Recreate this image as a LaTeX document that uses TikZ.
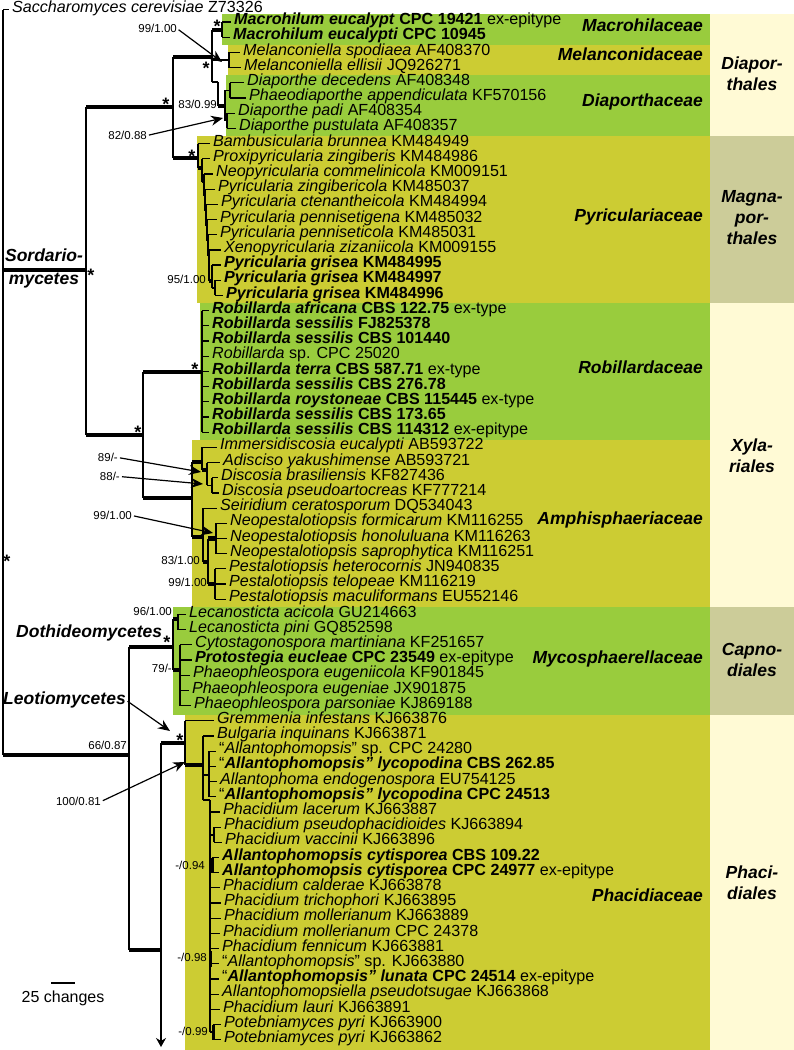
\documentclass[tikz,border=0pt]{standalone}
\usepackage{fontspec}
\setmainfont{Liberation Sans}
\usetikzlibrary{arrows.meta}
\definecolor{grn}{HTML}{99CC3D}
\definecolor{olv}{HTML}{CCCC33}
\definecolor{khk}{HTML}{CCCC99}
\definecolor{crm}{HTML}{FFFAD5}
\newcommand{\bi}[1]{\textbf{\textit{#1}}}
\begin{document}
\begin{tikzpicture}[x=1pt,y=-1pt,
 tax/.style={anchor=mid west,inner xsep=3pt,inner ysep=0pt,font=\fontsize{16.1}{17}\selectfont},
 fam/.style={anchor=mid east,inner sep=0pt,font=\fontsize{17.5}{21}\selectfont\bfseries\itshape},
 ord/.style={align=center,inner sep=0pt,font=\fontsize{17.5}{21}\selectfont\bfseries\itshape},
 cls/.style={inner sep=0pt,font=\fontsize{17.5}{21}\selectfont\bfseries\itshape},
 sup/.style={anchor=mid east,inner sep=0pt,font=\fontsize{11.5}{12}\selectfont},
 ast/.style={anchor=base,inner sep=0pt,font=\fontsize{18}{18}\selectfont\bfseries},
 br/.style={line width=1.2pt},
 tb/.style={line width=4.2pt},
 vl/.style={line width=1.2pt},
 arr/.style={line width=1.2pt,shorten <=2pt,-{Stealth[length=12pt,width=10pt]}},
]
\useasboundingbox (0,0) rectangle (794,1050);
\fill[white] (0,0) rectangle (794,1050);
% family boxes
\fill[grn] (222,14.4) rectangle (710,44.8);
\fill[olv] (228,44.8) rectangle (710,75.2);
\fill[grn] (226,75.2) rectangle (710,135.9);
\fill[olv] (197,135.9) rectangle (710,303);
\fill[grn] (200,303) rectangle (710,439.7);
\fill[olv] (192,439.7) rectangle (710,606.8);
\fill[grn] (173,606.8) rectangle (710,715);
\fill[olv] (185,715) rectangle (710,1050);
% order boxes
\fill[crm] (710,14.4) rectangle (794,135.9);
\fill[khk] (710,135.9) rectangle (794,303);
\fill[crm] (710,303) rectangle (794,606.8);
\fill[khk] (710,606.8) rectangle (794,715);
\fill[crm] (710,715) rectangle (794,1050);

% tip labels
\node[tax] (t0) at (9,9.5) {\textit{Saccharomyces cerevisiae} Z73326};
\node[tax] (t1) at (231,22.0) {\bi{Macrohilum eucalypt} \textbf{CPC 19421} ex-epitype};
\node[tax] (t2) at (230,37.2) {\bi{Macrohilum eucalypti} \textbf{CPC 10945}};
\node[tax] (t3) at (240,52.4) {\textit{Melanconiella spodiaea} AF408370};
\node[tax] (t4) at (241,67.6) {\textit{Melanconiella ellisii} JQ926271};
\node[tax] (t5) at (244,82.8) {\textit{Diaporthe decedens} AF408348};
\node[tax] (t6) at (246,98.0) {\textit{Phaeodiaporthe appendiculata} KF570156};
\node[tax] (t7) at (235,113.1) {\textit{Diaporthe padi} AF408354};
\node[tax] (t8) at (236,128.3) {\textit{Diaporthe pustulata} AF408357};
\node[tax] (t9) at (210,143.5) {\textit{Bambusicularia brunnea} KM484949};
\node[tax] (t10) at (210,158.7) {\textit{Proxipyricularia zingiberis} KM484986};
\node[tax] (t11) at (213,173.9) {\textit{Neopyricularia commelinicola} KM009151};
\node[tax] (t12) at (215,189.1) {\textit{Pyricularia zingibericola} KM485037};
\node[tax] (t13) at (218,204.3) {\textit{Pyricularia ctenantheicola} KM484994};
\node[tax] (t14) at (217,219.5) {\textit{Pyricularia pennisetigena} KM485032};
\node[tax] (t15) at (217,234.7) {\textit{Pyricularia penniseticola} KM485031};
\node[tax] (t16) at (221,249.9) {\textit{Xenopyricularia zizaniicola} KM009155};
\node[tax] (t17) at (221,265.0) {\bi{Pyricularia grisea} \textbf{KM484995}};
\node[tax] (t18) at (221,280.2) {\bi{Pyricularia grisea} \textbf{KM484997}};
\node[tax] (t19) at (223,295.4) {\bi{Pyricularia grisea} \textbf{KM484996}};
\node[tax] (t20) at (209,310.6) {\bi{Robillarda africana} \textbf{CBS 122.75} ex-type};
\node[tax] (t21) at (209,325.8) {\bi{Robillarda sessilis} \textbf{FJ825378}};
\node[tax] (t22) at (209,341.0) {\bi{Robillarda sessilis} \textbf{CBS 101440}};
\node[tax] (t23) at (209,356.2) {\textit{Robillarda} sp. CPC 25020};
\node[tax] (t24) at (209,371.4) {\bi{Robillarda terra} \textbf{CBS 587.71} ex-type};
\node[tax] (t25) at (209,386.6) {\bi{Robillarda sessilis} \textbf{CBS 276.78}};
\node[tax] (t26) at (209,401.8) {\bi{Robillarda roystoneae} \textbf{CBS 115445} ex-type};
\node[tax] (t27) at (209,416.9) {\bi{Robillarda sessilis} \textbf{CBS 173.65}};
\node[tax] (t28) at (209,432.1) {\bi{Robillarda sessilis} \textbf{CBS 114312} ex-epitype};
\node[tax] (t29) at (217,447.3) {\textit{Immersidiscosia eucalypti} AB593722};
\node[tax] (t30) at (220,462.5) {\textit{Adisciso yakushimense} AB593721};
\node[tax] (t31) at (218,477.7) {\textit{Discosia brasiliensis} KF827436};
\node[tax] (t32) at (219,492.9) {\textit{Discosia pseudoartocreas} KF777214};
\node[tax] (t33) at (217,508.1) {\textit{Seiridium ceratosporum} DQ534043};
\node[tax] (t34) at (227,523.3) {\textit{Neopestalotiopsis formicarum} KM116255};
\node[tax] (t35) at (227,538.5) {\textit{Neopestalotiopsis honoluluana} KM116263};
\node[tax] (t36) at (227,553.7) {\textit{Neopestalotiopsis saprophytica} KM116251};
\node[tax] (t37) at (226,568.8) {\textit{Pestalotiopsis heterocornis} JN940835};
\node[tax] (t38) at (226,584.0) {\textit{Pestalotiopsis telopeae} KM116219};
\node[tax] (t39) at (226,599.2) {\textit{Pestalotiopsis maculiformans} EU552146};
\node[tax] (t40) at (186,614.4) {\textit{Lecanosticta acicola} GU214663};
\node[tax] (t41) at (186,629.6) {\textit{Lecanosticta pini} GQ852598};
\node[tax] (t42) at (192,644.8) {\textit{Cytostagonospora martiniana} KF251657};
\node[tax] (t43) at (192,660.0) {\bi{Protostegia eucleae} \textbf{CPC 23549} ex-epitype};
\node[tax] (t44) at (190,675.2) {\textit{Phaeophleospora eugeniicola} KF901845};
\node[tax] (t45) at (189,690.4) {\textit{Phaeophleospora eugeniae} JX901875};
\node[tax] (t46) at (191,705.6) {\textit{Phaeophleospora parsoniae} KJ869188};
\node[tax] (t47) at (214,720.7) {\textit{Gremmenia infestans} KJ663876};
\node[tax] (t48) at (214,735.9) {\textit{Bulgaria inquinans} KJ663871};
\node[tax] (t49) at (216,751.1) {“\textit{Allantophomopsis}” sp. CPC 24280};
\node[tax] (t50) at (216,766.3) {“\bi{Allantophomopsis” lycopodina} \textbf{CBS 262.85}};
\node[tax] (t51) at (217,781.5) {\textit{Allantophoma endogenospora} EU754125};
\node[tax] (t52) at (216,796.7) {“\bi{Allantophomopsis” lycopodina} \textbf{CPC 24513}};
\node[tax] (t53) at (220,811.9) {\textit{Phacidium lacerum} KJ663887};
\node[tax] (t54) at (221,827.1) {\textit{Phacidium pseudophacidioides} KJ663894};
\node[tax] (t55) at (222,842.3) {\textit{Phacidium vaccinii} KJ663896};
\node[tax] (t56) at (219,857.5) {\bi{Allantophomopsis cytisporea} \textbf{CBS 109.22}};
\node[tax] (t57) at (219,872.6) {\bi{Allantophomopsis cytisporea} \textbf{CPC 24977} ex-epitype};
\node[tax] (t58) at (220,887.8) {\textit{Phacidium calderae} KJ663878};
\node[tax] (t59) at (221,903.0) {\textit{Phacidium trichophori} KJ663895};
\node[tax] (t60) at (221,918.2) {\textit{Phacidium mollerianum} KJ663889};
\node[tax] (t61) at (220,933.4) {\textit{Phacidium mollerianum} CPC 24378};
\node[tax] (t62) at (219,948.6) {\textit{Phacidium fennicum} KJ663881};
\node[tax] (t63) at (219,963.8) {“\textit{Allantophomopsis}” sp. KJ663880};
\node[tax] (t64) at (219,979.0) {“\bi{Allantophomopsis” lunata} \textbf{CPC 24514} ex-epitype};
\node[tax] (t65) at (219,994.2) {\textit{Allantophomopsiella pseudotsugae} KJ663868};
\node[tax] (t66) at (220,1009.4) {\textit{Phacidium lauri} KJ663891};
\node[tax] (t67) at (221,1024.6) {\textit{Potebniamyces pyri} KJ663900};
\node[tax] (t68) at (221,1039.8) {\textit{Potebniamyces pyri} KJ663862};

% family labels
\node[fam] (f1) at (703,29) {Macrohilaceae};
\node[fam] (f2) at (703,58) {Melanconidaceae};
\node[fam] (f3) at (703,104) {Diaporthaceae};
\node[fam] (f4) at (703,219) {Pyriculariaceae};
\node[fam] (f5) at (703,371) {Robillardaceae};
\node[fam] (f6) at (703,522) {Amphisphaeriaceae};
\node[fam] (f7) at (703,661) {Mycosphaerellaceae};
\node[fam] (f8) at (703,899) {Phacidiaceae};
% order labels
\node[ord] (o1) at (752,74) {Diapor-\\thales};
\node[ord] (o2) at (752,218) {Magna-\\por-\\thales};
\node[ord] (o3) at (752,456) {Xyla-\\riales};
\node[ord] (o4) at (752,660) {Capno-\\diales};
\node[ord] (o5) at (752,883) {Phaci-\\diales};
% class labels
\node[cls,anchor=mid] (c1) at (44,259) {Sordario-};
\node[cls,anchor=mid] (c2) at (44,282) {mycetes};
\node[cls,anchor=mid west] (c3) at (16,635) {Dothideomycetes};
\node[cls,anchor=mid west] (c4) at (3,702) {Leotiomycetes};

% internal nodes
\coordinate (R) at (3,9.5);
\coordinate (S) at (86,270);
\coordinate (DM) at (173,107);
\coordinate (D) at (212,57);
\coordinate (M) at (222,29.6);
\coordinate (Me) at (229,60);
\coordinate (E) at (218,82);
\coordinate (Dc) at (225,106);
\coordinate (Dd) at (230,90.4);
\coordinate (Dp) at (227,120.7);
\coordinate (P0) at (198,158);
\coordinate (P1) at (202,168);
\coordinate (P2) at (204,182);
\coordinate (P3) at (205,196);
\coordinate (P4) at (206,211);
\coordinate (P5) at (207,226);
\coordinate (P6) at (208,241);
\coordinate (P7) at (209,256);
\coordinate (G1) at (212,281);
\coordinate (G2) at (215,288);
\coordinate (X) at (143,435);
\coordinate (Rb) at (202,372);
\coordinate (Am) at (192,498);
\coordinate (D1) at (202,462);
\coordinate (D2) at (207,470);
\coordinate (D3) at (212,485.3);
\coordinate (SP) at (203,537);
\coordinate (NP) at (208,562);
\coordinate (Ne) at (216,538.5);
\coordinate (Pe) at (215,584);
\coordinate (DL) at (129,755);
\coordinate (My) at (173,647);
\coordinate (Lc) at (178,619);
\coordinate (Cy) at (180,670);
\coordinate (L) at (161,950);
\coordinate (Lend) at (161,1047);
\coordinate (Ph1) at (185,743);
\coordinate (Ph2) at (203,765);
\coordinate (An) at (209,775);
\coordinate (PR) at (210,800);
\coordinate (PV) at (214,835);
\coordinate (CT) at (212,865);
\coordinate (PT) at (213,1032);
\coordinate (m98a) at (210,951);
\coordinate (m98b) at (210,967);

% verticals
\draw[vl] (R) -- (R |- DL);
\draw[vl] (S |- DM) -- (S |- X);
\draw[vl] (DM |- D) -- (DM |- P0);
\draw[vl] (D |- M) -- (D |- E);
\draw[vl] (M |- t1.mid west) -- (M |- t2.mid west);
\draw[vl] (Me |- t3.mid west) -- (Me |- t4.mid west);
\draw[vl] (E) -- (E |- Dc);
\draw[vl] (Dc |- Dd) -- (Dc |- Dp);
\draw[vl] (Dd |- t5.mid west) -- (Dd |- t6.mid west);
\draw[vl] (Dp |- t7.mid west) -- (Dp |- t8.mid west);
\draw[vl] (P0 |- t9.mid west) -- (P0 |- P1);
\draw[vl] (P1 |- t10.mid west) -- (P1 |- P2);
\draw[vl] (P2 |- t11.mid west) -- (P2 |- P3);
\draw[vl] (P3 |- t12.mid west) -- (P3 |- P4);
\draw[vl] (P4 |- t13.mid west) -- (P4 |- P5);
\draw[vl] (P5 |- t14.mid west) -- (P5 |- P6);
\draw[vl] (P6 |- t15.mid west) -- (P6 |- P7);
\draw[vl] (P7 |- t16.mid west) -- (P7 |- G1);
\draw[vl] (G1 |- t17.mid west) -- (G1 |- G2);
\draw[vl] (G2 |- t18.mid west) -- (G2 |- t19.mid west);
\draw[vl] (X |- Rb) -- (X |- Am);
\draw[vl] (Rb |- t20.mid west) -- (Rb |- t28.mid west);
\draw[vl] (Am |- D1) -- (Am |- SP);
\draw[vl] (D1 |- t29.mid west) -- (D1 |- D2);
\draw[vl] (D2 |- t30.mid west) -- (D2 |- D3);
\draw[vl] (D3 |- t31.mid west) -- (D3 |- t32.mid west);
\draw[vl] (SP |- t33.mid west) -- (SP |- NP);
\draw[vl] (NP |- Ne) -- (NP |- Pe);
\draw[vl] (Ne |- t34.mid west) -- (Ne |- t36.mid west);
\draw[vl] (Pe |- t37.mid west) -- (Pe |- t39.mid west);
\draw[vl] (DL |- My) -- (DL |- L);
\draw[vl] (My |- Lc) -- (My |- Cy);
\draw[vl] (Lc |- t40.mid west) -- (Lc |- t41.mid west);
\draw[vl] (Cy |- t42.mid west) -- (Cy |- t46.mid west);
\draw[line width=1.2pt,-{Stealth[length=9pt,width=10pt]}] (L |- Ph1) -- (Lend);
\draw[vl] (Ph1 |- t47.mid west) -- (Ph1 |- Ph2);
\draw[vl] (Ph2 |- t48.mid west) -- (Ph2 |- PR);
\draw[line width=2.2pt] (An |- t49.mid west) -- (An |- t52.mid west);
\draw[vl] (PR) -- (PR |- PT);
\draw[line width=3pt] (m98a) -- (m98b);
\draw[vl] (PV |- t54.mid west) -- (PV |- t55.mid west);
\draw[line width=3pt] (CT |- t56.mid west) -- (CT |- t57.mid west);
\draw[line width=3pt] (PT |- t67.mid west) -- (PT |- t68.mid west);

% branches
\draw[br] (R) -- (t0.mid west);
\draw[tb] (R |- S) -- (S);
\draw[tb] (R |- DL) -- (DL);
\draw[tb] (S |- DM) -- (DM);
\draw[tb] (S |- X) -- (X);
\draw[tb] (DM |- D) -- (D);
\draw[tb] (DM |- P0) -- (P0);
\draw[tb] (D |- M) -- (M);
\draw[br] (D |- Me) -- (Me);
\draw[br] (D |- E) -- (E);
\draw[tb] (E |- Dc) -- (Dc);
\draw[br] (Dc |- Dd) -- (Dd);
\draw[br] (Dc |- Dp) -- (Dp);
\foreach \n/\t in {M/t1,M/t2,Me/t3,Me/t4,Dd/t5,Dd/t6,Dp/t7,Dp/t8,P0/t9,P1/t10,P2/t11,P3/t12,P4/t13,P5/t14,P6/t15,P7/t16,G1/t17,G2/t18,G2/t19,
  Rb/t20,Rb/t21,Rb/t22,Rb/t23,Rb/t24,Rb/t25,Rb/t26,Rb/t27,Rb/t28,D1/t29,D2/t30,D3/t31,D3/t32,SP/t33,Ne/t34,Ne/t35,Ne/t36,Pe/t37,Pe/t38,Pe/t39,
  Lc/t40,Lc/t41,Cy/t42,Cy/t43,Cy/t44,Cy/t45,Cy/t46,Ph1/t47,Ph2/t48,An/t49,An/t50,An/t51,An/t52,PR/t53,PV/t54,PV/t55,CT/t56,CT/t57,
  PR/t58,PR/t59,PR/t60,PR/t61,PR/t62,PR/t63,PR/t64,PR/t65,PR/t66,PT/t67,PT/t68}
  {\draw[br] (\n |- \t.mid west) -- (\t.mid west);}
\draw[tb] (P0 |- P1) -- (P1);
\draw[br] (P1 |- P2) -- (P2);
\draw[br] (P2 |- P3) -- (P3);
\draw[br] (P3 |- P4) -- (P4);
\draw[br] (P4 |- P5) -- (P5);
\draw[br] (P5 |- P6) -- (P6);
\draw[br] (P6 |- P7) -- (P7);
\draw[tb] (P7 |- G1) -- (G1);
\draw[br] (G1 |- G2) -- (G2);
\draw[tb] (X |- Rb) -- (Rb);
\draw[tb] (X |- Am) -- (Am);
\draw[tb] (Am |- D1) -- (D1);
\draw[tb] (Am |- SP) -- (SP);
\draw[tb] (D1 |- D2) -- (D2);
\draw[br] (D2 |- D3) -- (D3);
\draw[tb] (SP |- NP) -- (NP);
\draw[tb] (NP |- Ne) -- (Ne);
\draw[tb] (NP |- Pe) -- (Pe);
\draw[tb] (DL |- My) -- (My);
\draw[tb] (DL |- L) -- (L);
\draw[tb] (My |- Lc) -- (Lc);
\draw[tb] (My |- Cy) -- (Cy);
\draw[tb] (L |- Ph1) -- (Ph1);
\draw[tb] (Ph1 |- Ph2) -- (Ph2);
\draw[br] (Ph2 |- An) -- (An);
\draw[br] (Ph2 |- PR) -- (PR);
\draw[br] (PR |- PV) -- (PV);
\draw[br] (PR |- CT) -- (CT);
\draw[br] (PR |- PT) -- (PT);

% support values
\node[sup] (s1) at (177,30) {99/1.00};
\node[sup] (s2) at (147,137) {82/0.88};
\node[sup] (s3) at (217,106) {83/0.99};
\node[sup] (s4) at (206,281) {95/1.00};
\node[sup] (s5) at (118,459) {89/-};
\node[sup] (s6) at (120,478) {88/-};
\node[sup] (s7) at (132,517) {99/1.00};
\node[sup] (s8) at (200,562) {83/1.00};
\node[sup] (s9) at (207,584) {99/1.00};
\node[sup] (s10) at (172,613) {96/1.00};
\node[sup] (s11) at (172,670) {79/-};
\node[sup] (s12) at (127,747) {66/0.87};
\node[sup] (s13) at (101,803) {100/0.81};
\node[sup] (s14) at (205,867) {-/0.94};
\node[sup] (s15) at (207,959) {-/0.98};
\node[sup] (s16) at (208,1033) {-/0.99};
\coordinate (k1) at (222,62);
\coordinate (k2) at (223,118);
\coordinate (k5) at (201,472);
\coordinate (k6) at (203,484);
\coordinate (k7) at (213,533);
\coordinate (k13) at (185,762);
\coordinate (kL) at (170,731);
\draw[arr] (s1.east) -- (k1);
\draw[arr] (s2.east) -- (k2);
\draw[arr] (s5.east) -- (k5);
\draw[arr] (s6.east) -- (k6);
\draw[arr] (s7.east) -- (k7);
\draw[arr] (s13.east) -- (k13);
\draw[arr] (c4.east) -- (kL);

% asterisks
\node[ast] (a1) at (217,32) {*};
\node[ast] (a2) at (206,74) {*};
\node[ast] (a3) at (166,110) {*};
\node[ast] (a4) at (192,162) {*};
\node[ast] (a5) at (91,281) {*};
\node[ast] (a6) at (195,375) {*};
\node[ast] (a7) at (138,438) {*};
\node[ast] (a8) at (7,567) {*};
\node[ast] (a9) at (167,648) {*};
\node[ast] (a10) at (180,746) {*};

% scale bar
\coordinate (sb1) at (51,983);
\coordinate (sb2) at (75,983);
\draw[br] (sb1) -- (sb2);
\node[font=\fontsize{16}{17}\selectfont,inner sep=0pt] (sbl) at (63,998) {25 changes};
\end{tikzpicture}
\end{document}
